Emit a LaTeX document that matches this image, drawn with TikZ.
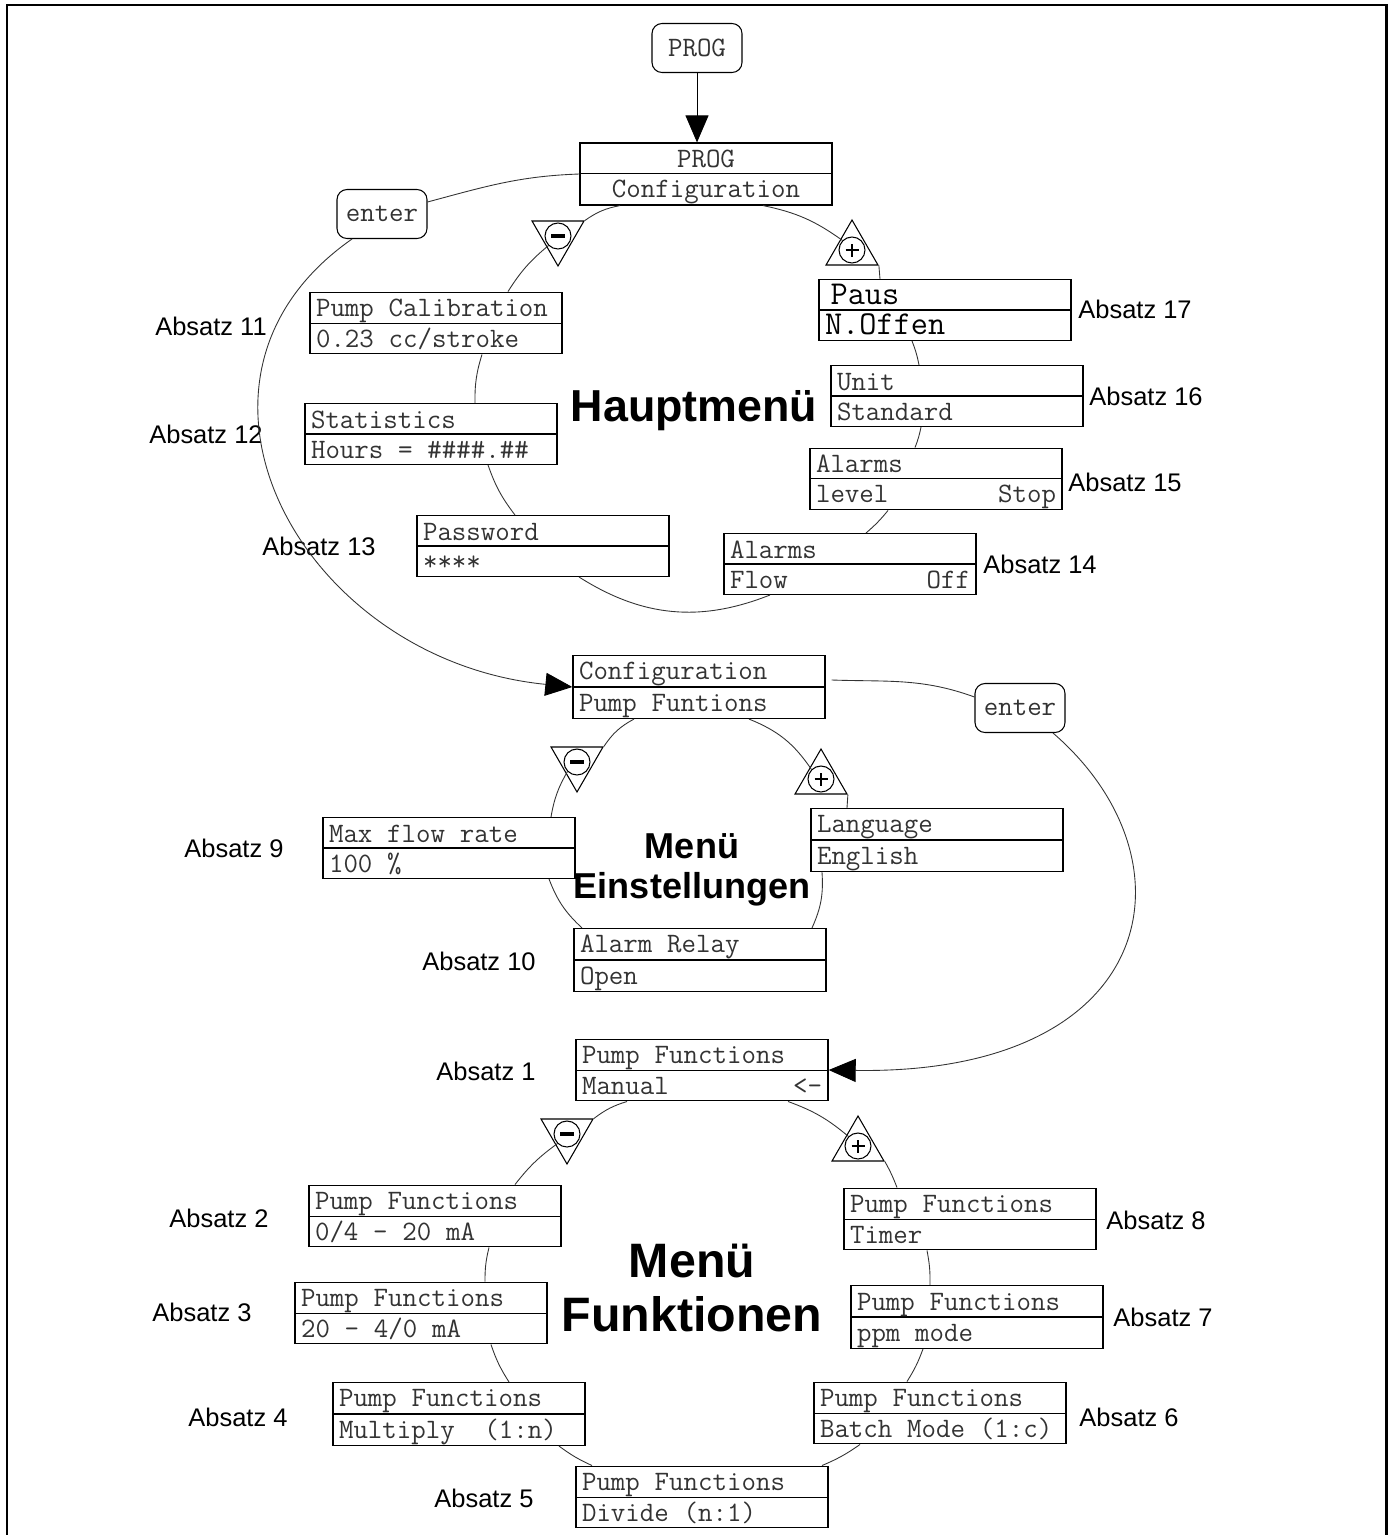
\documentclass[tikz,border=0pt]{standalone}
\usepackage{fontspec}
\setmainfont{Liberation Sans}
\setsansfont{Liberation Sans}
\usetikzlibrary{arrows.meta, shapes.geometric, shapes.multipart, calc}
\definecolor{Ink80}{HTML}{333333}
\newcommand\lcdstrut{\spaceskip=8.4pt\relax\xspaceskip=8.4pt\relax\rule[-3pt]{0pt}{16.44pt}}
\newcommand\lcd[2]{\lcdstrut#1\nodepart{two}\lcdstrut#2}
\newcommand\minussign{\rule[-0.045cm]{0.28cm}{0.09cm}}
\newcommand\plussign{\makebox[0pt]{\rule[-0.02cm]{0.26cm}{0.04cm}}\makebox[0pt]{\rule[-0.13cm]{0.04cm}{0.26cm}}}

\begin{document}
\begin{tikzpicture}[x=0.02cm, y=0.02cm,
    lcd/.style={rectangle split, rectangle split parts=2, draw, line width=0.8pt,
                text width=4.8cm, align=left, inner xsep=0.12cm, inner ysep=0pt,
                font=\ttfamily\fontsize{16}{16.44}\selectfont, text=Ink80},
    btn/.style={rectangle, rounded corners=0.2cm, draw, line width=0.6pt,
                minimum width=1.8cm, minimum height=0.98cm,
                font=\ttfamily\fontsize{16}{16}\selectfont, text=Ink80},
    tridn/.style={regular polygon, regular polygon sides=3, shape border rotate=180,
                  draw, line width=0.6pt, minimum size=1.2cm, inner sep=0pt},
    triup/.style={regular polygon, regular polygon sides=3,
                  draw, line width=0.6pt, minimum size=1.2cm, inner sep=0pt},
    sign/.style={circle, draw, line width=0.6pt, minimum size=0.52cm, inner sep=0pt},
    absatz/.style={inner sep=0pt, font=\sffamily\fontsize{14.5}{17}\selectfont},
    ring/.style={line width=0.5pt, draw=Ink80},
    bigarr/.style={ring, -{Triangle[length=0.54cm, width=0.46cm, color=black]}}
  ]
  \useasboundingbox (0,0) rectangle (1393,-1535);
  \draw[line width=1.7pt] (7,-1535) -- (7,-5) -- (1386,-5) -- (1386,-1535);

  \node[btn] (progkey) at (697,-48) {PROG};
  \node[lcd, align=center] (prog2) at (706,-174) {\lcd{PROG}{Configuration}};
  \node[btn] (enter1) at (382,-214) {enter};
  \node[tridn] (m1) at (558,-236) {};
  \node[sign] (m1c) at (m1) {\minussign};
  \node[triup] (p1) at (852,-250) {};
  \node[sign] (p1c) at (p1) {\plussign};
  \node[lcd] (pcal) at (436,-323) {\lcd{Pump Calibration}{0.23 cc/stroke}};
  \node[lcd] (stat) at (431,-434) {\lcd{Statistics}{Hours = \#\#\#\#.\#\#}};
  \node[lcd] (pwd) at (543,-546) {\lcd{Password}{****}};
  \node[lcd, font=\ttfamily\fontsize{19}{16.44}\selectfont, text=black] (paus) at (945,-310) {\lcd{\,Paus}{N.Offen}};
  \node[lcd] (unit) at (957,-396) {\lcd{Unit}{Standard}};
  \node[lcd] (alarml) at (936,-479) {\lcd{Alarms}{level\hfill Stop}};
  \node[lcd] (alarmf) at (850,-564) {\lcd{Alarms}{Flow\hfill Off}};
  \node[font=\sffamily\bfseries\fontsize{25.5}{30}\selectfont] (haupt) at (694,-411) {Hauptmenü};

  \node[lcd] (conf) at (699,-687) {\lcd{Configuration}{Pump Funtions}};
  \node[btn] (enter2) at (1020,-708) {enter};
  \node[tridn] (m2) at (577,-762) {};
  \node[sign] (m2c) at (m2) {\minussign};
  \node[triup] (p2) at (821,-779) {};
  \node[sign] (p2c) at (p2) {\plussign};
  \node[lcd] (lang) at (937,-840) {\lcd{Language}{English}};
  \node[lcd] (maxf) at (449,-848) {\lcd{Max flow rate}{100 \%}};
  \node[lcd] (alrel) at (700,-960) {\lcd{Alarm Relay}{Open}};
  \node[align=center, font=\sffamily\bfseries\fontsize{20.5}{22.7}\selectfont] (einst) at (692,-870) {Menü\\Einstellungen};

  \node[lcd] (pf1) at (702,-1070) {\lcd{Pump Functions}{Manual\hfill <-}};
  \node[tridn] (m3) at (567,-1134) {};
  \node[sign] (m3c) at (m3) {\minussign};
  \node[triup] (p3) at (858,-1146) {};
  \node[sign] (p3c) at (p3) {\plussign};
  \node[lcd] (pf2) at (435,-1216) {\lcd{Pump Functions}{0/4 - 20 mA}};
  \node[lcd] (pf3) at (421,-1313) {\lcd{Pump Functions}{20 - 4/0 mA}};
  \node[lcd] (pf4) at (459,-1414) {\lcd{Pump Functions}{Multiply\ \ (1:n)}};
  \node[lcd] (pf5) at (702,-1497) {\lcd{Pump Functions}{Divide (n:1)}};
  \node[lcd] (pf6) at (940,-1413) {\lcd{Pump Functions}{Batch Mode (1:c)}};
  \node[lcd] (pf7) at (977,-1317) {\lcd{Pump Functions}{ppm mode}};
  \node[lcd] (pf8) at (970,-1219) {\lcd{Pump Functions}{Timer}};
  \node[align=center, font=\sffamily\bfseries\fontsize{27.5}{31.2}\selectfont] (funk) at (692,-1288) {Menü\\Funktionen};

  \node[absatz] (a11) at (211,-326) {Absatz 11};
  \node[absatz] (a12) at (206,-434) {Absatz 12};
  \node[absatz] (a13) at (319,-546) {Absatz 13};
  \node[absatz] (a17) at (1135,-309) {Absatz 17};
  \node[absatz] (a16) at (1146,-396) {Absatz 16};
  \node[absatz] (a15) at (1125,-482) {Absatz 15};
  \node[absatz] (a14) at (1040,-564) {Absatz 14};
  \node[absatz] (a9) at (234,-848) {Absatz 9};
  \node[absatz] (a10) at (479,-961) {Absatz 10};
  \node[absatz] (a1) at (486,-1071) {Absatz 1};
  \node[absatz] (a2) at (219,-1218) {Absatz 2};
  \node[absatz] (a3) at (202,-1312) {Absatz 3};
  \node[absatz] (a4) at (238,-1417) {Absatz 4};
  \node[absatz] (a5) at (484,-1498) {Absatz 5};
  \node[absatz] (a6) at (1129,-1417) {Absatz 6};
  \node[absatz] (a7) at (1163,-1317) {Absatz 7};
  \node[absatz] (a8) at (1156,-1220) {Absatz 8};

  \draw[bigarr, draw=black] (progkey) -- (progkey |- prog2.north);
  \draw[ring] (prog2.west) to[out=182,in=15] ($(enter1.east)+(0,12)$);
  \draw[bigarr] ($(enter1.south)+(-30,0)$) .. controls (150,-380) and (300,-660) .. (conf.west);
  \draw[ring] ($(conf.east)+(6,7)$) to[out=358,in=160] ($(enter2.west)+(0,11)$);
  \draw[bigarr] ($(enter2.south)+(33,0)$) .. controls (1200,-860) and (1160,-1075) .. (pf1.east);

  \draw[ring] ($(prog2.south)+(-86,0)$) to[bend right=12] (m1.corner 2);
  \draw[ring] (m1c.225) to[bend right=9] ($(pcal.north)+(72,0)$);
  \draw[ring] ($(pcal.south)+(46,0)$) to[bend right=9] ($(stat.north)+(44,0)$);
  \draw[ring] ($(stat.south)+(57,0)$) to[bend right=9] ($(pwd.north)+(-28,0)$);
  \draw[ring] ($(pwd.south)+(36,0)$) to[bend right=27] ($(alarmf.south)+(-80,0)$);
  \draw[ring] ($(alarmf.north)+(16,0)$) to[bend right=5] ($(alarml.south)+(-48,0)$);
  \draw[ring] ($(alarml.north)+(-21,0)$) to[bend right=5] ($(unit.south)+(-36,0)$);
  \draw[ring] ($(unit.north)+(-38,0)$) to[bend right=5] ($(paus.south)+(-33,0)$);
  \draw[ring] ($(paus.north)+(-65,0)$) -- (p1.corner 3);
  \draw[ring] ($(prog2.south)+(57,0)$) to[bend left=12] (p1c.135);

  \draw[ring] ($(conf.south)+(-65,0)$) to[bend right=14] (m2.corner 2);
  \draw[ring] (m2c.225) to[bend right=10] ($(maxf.north)+(102,0)$);
  \draw[ring] ($(maxf.south)+(100,0)$) to[bend right=13] ($(alrel.north)+(-118,0)$);
  \draw[ring] ($(alrel.north)+(112,0)$) to[bend right=14] ($(lang.south)+(-115,0)$);
  \draw[ring] ($(lang.north)+(-90,0)$) -- (p2.corner 3);
  \draw[ring] ($(conf.south)+(50,0)$) to[bend left=17] (p2c.135);

  \draw[ring] ($(pf1.south)+(-75,0)$) to[bend right=10] (m3.corner 2);
  \draw[ring] (m3c.225) to[bend right=8] ($(pf2.north)+(80,0)$);
  \draw[ring] ($(pf2.south)+(54,0)$) to[bend right=7] ($(pf3.north)+(64,0)$);
  \draw[ring] ($(pf3.south)+(70,0)$) to[bend right=7] ($(pf4.north)+(50,0)$);
  \draw[ring] ($(pf4.south)+(100,0)$) to[bend right=6] ($(pf5.north)+(-110,0)$);
  \draw[ring] ($(pf5.north)+(120,0)$) to[bend right=6] ($(pf6.south)+(-80,0)$);
  \draw[ring] ($(pf6.north)+(-33,0)$) to[bend right=6] ($(pf7.south)+(-54,0)$);
  \draw[ring] ($(pf7.north)+(-47,0)$) to[bend right=6] ($(pf8.south)+(-43,0)$);
  \draw[ring] ($(pf8.north)+(-73,0)$) to[bend right=4] (p3.corner 3);
  \draw[ring] ($(pf1.south)+(86,0)$) to[bend left=10] (p3c.135);
\end{tikzpicture}
\end{document}
